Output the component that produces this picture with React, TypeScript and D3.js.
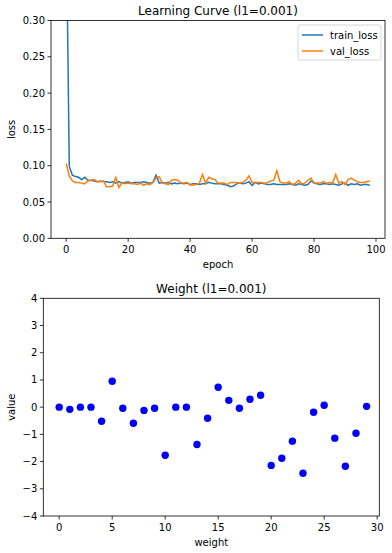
import * as d3 from "d3";
import React from "react";

// learning curve, epochs 0..98
const trainLoss = [
  0.45, 0.099, 0.087, 0.085, 0.084, 0.081, 0.084, 0.08, 0.08, 0.079,
  0.078, 0.079, 0.078, 0.078, 0.077, 0.078, 0.076, 0.078, 0.076, 0.077,
  0.078, 0.076, 0.077, 0.077, 0.077, 0.078, 0.077, 0.076, 0.077, 0.087,
  0.076, 0.077, 0.076, 0.077, 0.075, 0.076, 0.075, 0.076, 0.075, 0.076,
  0.074, 0.075, 0.075, 0.074, 0.075, 0.075, 0.077, 0.076, 0.075, 0.075,
  0.075, 0.074, 0.073, 0.071, 0.072, 0.075, 0.076, 0.075, 0.076, 0.078,
  0.073, 0.077, 0.075, 0.076, 0.075, 0.074, 0.074, 0.075, 0.074, 0.074,
  0.074, 0.074, 0.075, 0.074, 0.073, 0.075, 0.074, 0.073, 0.074, 0.079,
  0.076, 0.075, 0.074, 0.075, 0.075, 0.074, 0.075, 0.074, 0.073, 0.075,
  0.076, 0.073, 0.075, 0.074, 0.075, 0.073, 0.074, 0.074, 0.073,
];
const valLoss = [
  0.103, 0.086, 0.079, 0.077, 0.077, 0.076, 0.075, 0.079, 0.08, 0.081,
  0.078, 0.078, 0.079, 0.071, 0.071, 0.072, 0.084, 0.07, 0.076, 0.075,
  0.076, 0.075, 0.075, 0.074, 0.076, 0.073, 0.075, 0.074, 0.077, 0.083,
  0.085, 0.076, 0.075, 0.074, 0.08, 0.081, 0.08, 0.076, 0.076, 0.077,
  0.0735, 0.0735, 0.074, 0.076, 0.088, 0.076, 0.084, 0.082, 0.081, 0.076,
  0.076, 0.076, 0.074, 0.077, 0.077, 0.077, 0.076, 0.077, 0.08, 0.086,
  0.077, 0.077, 0.077, 0.077, 0.076, 0.077, 0.079, 0.08, 0.093, 0.078,
  0.076, 0.076, 0.078, 0.074, 0.076, 0.08, 0.075, 0.076, 0.08, 0.083,
  0.076, 0.076, 0.076, 0.078, 0.076, 0.077, 0.076, 0.088, 0.076, 0.078,
  0.074, 0.081, 0.083, 0.08, 0.078, 0.077, 0.077, 0.078, 0.079,
];
const lossTicksX = [0, 20, 40, 60, 80, 100];
const lossTicksY = [0, 0.05, 0.1, 0.15, 0.2, 0.25, 0.3];

// weights (l1=0.001)
const weights = [
  0.0, -0.08, 0.0, 0.0, -0.52, 0.95, -0.04, -0.59, -0.12, -0.04,
  -1.77, 0.0, 0.0, -1.37, -0.41, 0.73, 0.25, -0.04, 0.29, 0.44,
  -2.14, -1.88, -1.25, -2.43, -0.19, 0.07, -1.14, -2.17, -0.96, 0.03,
];
const weightTicksX = [0, 5, 10, 15, 20, 25, 30];
const weightTicksY = [-4, -3, -2, -1, 0, 1, 2, 3, 4];

const FONT = "DejaVu Sans, sans-serif";
const fmtY = d3.format(".2f");
const minus = (v: number) => (v < 0 ? "\u2212" + Math.abs(v) : String(v));

const App = () => {
  // top panel
  const top = { l: 51, r: 385, t: 20.5, b: 238.3 };
  const x1 = d3.scaleLinear().domain([-4.9, 102.9]).range([top.l, top.r]);
  const y1 = d3.scaleLinear().domain([0, 0.3]).range([top.b, top.t]);
  const line1 = d3
    .line<number>()
    .x((d, i) => x1(i))
    .y((d) => y1(d));

  // bottom panel
  const bot = { l: 43.3, r: 379.3, t: 298.3, b: 516 };
  const x2 = d3.scaleLinear().domain([-1.5, 30.2]).range([bot.l, bot.r]);
  const y2 = d3.scaleLinear().domain([-4, 4]).range([bot.b, bot.t]);

  return (
    <div style={{ position: "fixed", left: 0, top: 0 }}>
      <svg width={392} height={553} style={{ display: "block", background: "#fff" }} fontFamily={FONT}>
        <defs>
          <clipPath id="clipTop">
            <rect x={top.l} y={top.t} width={top.r - top.l} height={top.b - top.t} />
          </clipPath>
        </defs>

        {/* learning curve */}
        <text x={(top.l + top.r) / 2} y={15} fontSize={12} textAnchor="middle" fill="#000">
          Learning Curve (l1=0.001)
        </text>
        <g clipPath="url(#clipTop)">
          <path d={line1(trainLoss) || ""} fill="none" stroke="#1f77b4" strokeWidth={1.5} />
          <path d={line1(valLoss) || ""} fill="none" stroke="#ff7f0e" strokeWidth={1.5} />
        </g>
        <rect x={top.l} y={top.t} width={top.r - top.l} height={top.b - top.t} fill="none" stroke="#000" strokeWidth={0.8} />
        {lossTicksX.map((t) => (
          <g key={"lx" + t} transform={`translate(${x1(t)},${top.b})`}>
            <line y2={3.5} stroke="#000" strokeWidth={0.8} />
            <text y={15} fontSize={10} textAnchor="middle" fill="#000">{t}</text>
          </g>
        ))}
        {lossTicksY.map((t) => (
          <g key={"ly" + t} transform={`translate(${top.l},${y1(t)})`}>
            <line x2={-3.5} stroke="#000" strokeWidth={0.8} />
            <text x={-6} dy="0.35em" fontSize={10} textAnchor="end" fill="#000">{fmtY(t)}</text>
          </g>
        ))}
        <text x={(top.l + top.r) / 2} y={268} fontSize={10} textAnchor="middle" fill="#000">epoch</text>
        <text transform={`translate(15,${(top.t + top.b) / 2}) rotate(-90)`} fontSize={10} textAnchor="middle" fill="#000">loss</text>

        {/* legend */}
        <rect x={298} y={25} width={83} height={35} rx={2} fill="#fff" fillOpacity={0.8} stroke="#ccc" strokeWidth={0.8} />
        <line x1={302} x2={323} y1={35} y2={35} stroke="#1f77b4" strokeWidth={1.5} />
        <text x={330} y={35} dy="0.35em" fontSize={10} fill="#000">train_loss</text>
        <line x1={302} x2={323} y1={51} y2={51} stroke="#ff7f0e" strokeWidth={1.5} />
        <text x={330} y={51} dy="0.35em" fontSize={10} fill="#000">val_loss</text>

        {/* weights */}
        <text x={(bot.l + bot.r) / 2} y={293} fontSize={12} textAnchor="middle" fill="#000">
          Weight (l1=0.001)
        </text>
        {weights.map((w, i) => (
          <circle key={"w" + i} cx={x2(i)} cy={y2(w)} r={3.7} fill="#0000ff" />
        ))}
        <rect x={bot.l} y={bot.t} width={bot.r - bot.l} height={bot.b - bot.t} fill="none" stroke="#000" strokeWidth={0.8} />
        {weightTicksX.map((t) => (
          <g key={"wx" + t} transform={`translate(${x2(t)},${bot.b})`}>
            <line y2={3.5} stroke="#000" strokeWidth={0.8} />
            <text y={15} fontSize={10} textAnchor="middle" fill="#000">{t}</text>
          </g>
        ))}
        {weightTicksY.map((t) => (
          <g key={"wy" + t} transform={`translate(${bot.l},${y2(t)})`}>
            <line x2={-3.5} stroke="#000" strokeWidth={0.8} />
            <text x={-6} dy="0.35em" fontSize={10} textAnchor="end" fill="#000">{minus(t)}</text>
          </g>
        ))}
        <text x={(bot.l + bot.r) / 2} y={546} fontSize={10} textAnchor="middle" fill="#000">weight</text>
        <text transform={`translate(15,${(bot.t + bot.b) / 2}) rotate(-90)`} fontSize={10} textAnchor="middle" fill="#000">value</text>
      </svg>
    </div>
  );
};

export default App;
